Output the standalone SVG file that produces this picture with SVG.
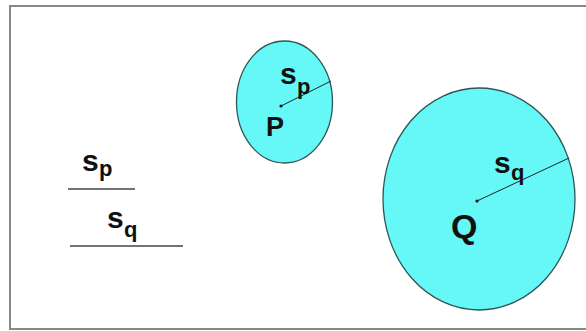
<svg xmlns="http://www.w3.org/2000/svg" width="586" height="331" viewBox="0 0 586 331">
<style>
.t{font-family:"Liberation Sans",Arial,sans-serif;font-weight:bold;fill:#111}
.circ{fill:#66F7F7;stroke:#2F5656;stroke-width:1.3}
.r{stroke:#222;stroke-width:1}
.u{stroke:#444;stroke-width:1.5}
</style>
<rect x="0" y="0" width="586" height="331" fill="#fff"/>
<rect x="10" y="6" width="590" height="323" fill="none" stroke="#888" stroke-width="2"/>
<g id="circleP">
<ellipse class="circ" cx="284.5" cy="102" rx="48" ry="61"/>
<line class="r" x1="281" y1="106" x2="331" y2="81"/>
<circle cx="281" cy="106" r="1.6" fill="#111"/>
<text class="t" x="280" y="84" font-size="30">s</text>
<text class="t" x="297" y="94" font-size="22">p</text>
<text class="t" x="266" y="136" font-size="27">P</text>
</g>
<g id="circleQ">
<ellipse class="circ" cx="479" cy="199" rx="96" ry="111"/>
<line class="r" x1="477" y1="201" x2="569" y2="158"/>
<circle cx="477" cy="201" r="1.6" fill="#111"/>
<text class="t" x="494" y="173" font-size="30">s</text>
<text class="t" x="511" y="180" font-size="22">q</text>
<text class="t" x="451" y="238" font-size="34">Q</text>
</g>
<g id="legend">
<text class="t" x="82" y="171" font-size="30">s</text>
<text class="t" x="99" y="176" font-size="22">p</text>
<line class="u" x1="68" y1="189" x2="135" y2="189"/>
<text class="t" x="107" y="228" font-size="30">s</text>
<text class="t" x="124" y="237" font-size="22">q</text>
<line class="u" x1="70" y1="246" x2="183" y2="246"/>
</g>
</svg>
